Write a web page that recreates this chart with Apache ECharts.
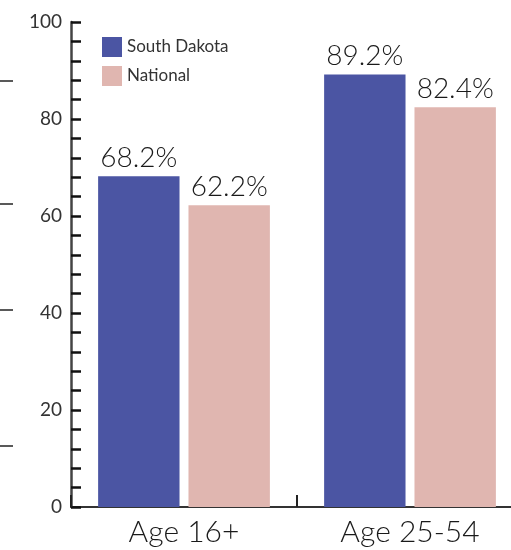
<!DOCTYPE html>
<html><head><meta charset="utf-8">
<script src="https://cdn.jsdelivr.net/npm/echarts@6/dist/echarts.min.js"></script>
<style>html,body{margin:0;padding:0;background:#fff;overflow:hidden}#c{width:523px;height:550px}</style>
</head><body><div id="c"></div>
<script>
const categories = ['Age 16+', 'Age 25-54'];
const seriesNames = ['South Dakota', 'National'];
const southDakota = [68.2, 89.2];
const national = [62.2, 82.4];
const yTicks = [0, 20, 40, 60, 80, 100];

const FONT = 'Lato';
const chart = echarts.init(document.getElementById('c'), null, {renderer: 'canvas'});
const labelCfg = {
  show: true, position: 'top', distance: 4,
  formatter: p => p.value.toFixed(1) + '%',
  fontFamily: FONT, fontWeight: 300, fontSize: 28, color: '#1a1a1a'
};
chart.setOption({
  animation: false,
  backgroundColor: '#fff',
  grid: {left: 71, right: 0, top: 22, bottom: 43, containLabel: false},
  legend: {
    orient: 'vertical', left: 97, top: 32,
    itemWidth: 20, itemHeight: 20, itemGap: 9,
    icon: 'rect',
    textStyle: {fontFamily: FONT, fontSize: 17, color: '#333'},
    data: seriesNames
  },
  xAxis: {
    type: 'category', data: categories,
    axisLine: {lineStyle: {color: '#333', width: 2}},
    axisTick: {show: true, inside: true, length: 12, lineStyle: {color: '#222', width: 2}},
    axisLabel: {fontFamily: FONT, fontWeight: 300, fontSize: 30, color: '#1a1a1a', margin: 10}
  },
  yAxis: {
    type: 'value', min: yTicks[0], max: yTicks[yTicks.length-1], interval: 20,
    axisLine: {show: true, lineStyle: {color: '#444', width: 2.5}},
    axisTick: {show: true, inside: true, length: 10, lineStyle: {color: '#111', width: 2.5}},
    minorTick: {show: true, splitNumber: 5, length: 10, lineStyle: {color: '#111', width: 2.5}},
    splitLine: {show: false},
    axisLabel: {fontFamily: FONT, fontWeight: 400, fontSize: 19, color: '#333', margin: 9}
  },
  series: [
    {name: seriesNames[0], type: 'bar', data: southDakota, barGap: '11%', barCategoryGap: '24%',
     itemStyle: {color: '#4b55a3'}, label: labelCfg},
    {name: seriesNames[1], type: 'bar', data: national,
     itemStyle: {color: '#e0b6b0'}, label: labelCfg}
  ],
  graphic: [81, 204, 310, 446].map(y => ({
    type: 'line', shape: {x1: 0, y1: y, x2: 13, y2: y},
    style: {stroke: '#222', lineWidth: 1.5}
  }))
});
</script></body></html>
